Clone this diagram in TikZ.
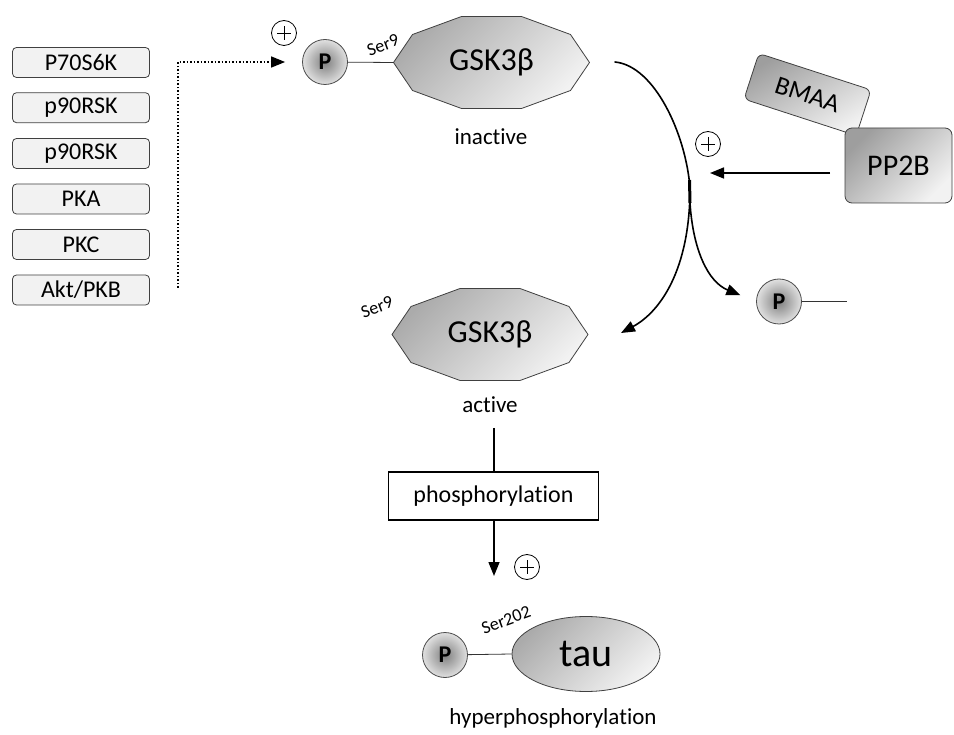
\documentclass[tikz,border=0pt]{standalone}
\usepackage{fontspec}
\setmainfont{Carlito}[Ligatures=NoCommon]
\usetikzlibrary{arrows.meta,shapes.geometric,calc}
\newcommand\decapath{(98,0) -- (79,28) -- (30,46) -- (-30,46) -- (-79,28) -- (-98,0) -- (-79,-28) -- (-30,-46) -- (30,-46) -- (79,-28) -- cycle}
\begin{document}
\begin{tikzpicture}[x=1pt,y=-1pt,
  kinase/.style={draw=black!75, fill=black!5, rounded corners=4pt, minimum width=137pt, minimum height=30pt, inner sep=0pt, line width=0.8pt, font=\fontsize{24}{26}\selectfont},
  phos/.style={circle, draw=black!70, line width=0.8pt, minimum size=45pt, inner sep=0pt, inner color=black!50, outer color=black!12, font=\bfseries\fontsize{24}{26}\selectfont},
  deca/.style={draw=black!75, line width=0.8pt, top color=black!33, bottom color=black!5, shading angle=45},
  lbl/.style={font=\fontsize{23}{25}\selectfont, inner sep=0pt},
  serlbl/.style={font=\fontsize{18}{20}\selectfont, inner sep=0pt, rotate=20},
  plus/.style={circle, draw=black, line width=0.8pt, minimum size=25pt, inner sep=0pt,
    path picture={\draw[line width=0.8pt] ($(path picture bounding box.center)+(-7,0)$) -- ++(14,0);
                  \draw[line width=0.8pt] ($(path picture bounding box.center)+(0,-7)$) -- ++(0,14);}},
  curve/.style={line width=1.6pt, line cap=round},
  tip/.style={-{Triangle[length=14pt,width=11pt]}}
]
\useasboundingbox (0,0) rectangle (954,735);

% kinase boxes
\node[kinase] (k1) at (81,62.5) {P70S6K};
\node[kinase] (k2) at (81,107.7) {p90RSK};
\node[kinase] (k3) at (81,153.5) {p90RSK};
\node[kinase] (k4) at (81,199) {PKA};
\node[kinase] (k5) at (81,244.5) {PKC};
\node[kinase] (k6) at (81,290) {Akt/PKB};

% inactive GSK3beta
\path[deca, shift={(491.5,62.5)}] \decapath;
\node[inner sep=0pt, font=\fontsize{32}{34}\selectfont] (g1) at (491.5,62.5) {GSK3β};
\coordinate (g1w) at (393.5,62.5);
\node[phos] (p1) at (325,62) {P};
\draw[line width=0.8pt, black!80] (p1) -- (g1w);
\node[serlbl] (s1) at (383,45) {Ser9};
\node[lbl] (inact) at (491,137) {inactive};

% dotted arrow
\coordinate (dotb) at (178,288);
\draw[line width=1.5pt, dotted, tip, shorten >=17pt] (dotb) |- (p1.west);
\node[plus] (pl1) at (284,33) {};

% active GSK3beta
\path[deca, shift={(490,334.5)}] \decapath;
\node[inner sep=0pt, font=\fontsize{32}{34}\selectfont] (g2) at (490,334.5) {GSK3β};
\node[serlbl] (s2) at (377,307) {Ser9};
\node[lbl] (act) at (490,405) {active};

% BMAA and PP2B
\node[draw=black!75, line width=0.8pt, rounded corners=6pt, rotate=-18, minimum width=118pt, minimum height=48pt,
  top color=black!38, bottom color=black!5, shading angle=30, font=\fontsize{26}{28}\selectfont] (bmaa) at (807.5,94.5) {BMAA};
\node[draw=black!75, line width=0.8pt, rounded corners=7pt, minimum width=107pt, minimum height=75pt,
  top color=black!38, bottom color=black!5, shading angle=45, font=\fontsize{30}{32}\selectfont] (pp2b) at (898.5,165.5) {PP2B};
\coordinate (pp2bs) at (830,173);
\coordinate (pp2bt) at (710,173);
\draw[curve, tip, line cap=butt] (pp2bs) -- (pp2bt);
\node[plus] (pl2) at (708,144) {};

% curved arrows
\coordinate (cs) at (615,62);
\coordinate (cm) at (690,188);
\coordinate (cb) at (690,203);
\coordinate (ce1) at (621,333);
\node[phos] (p3) at (779,301.5) {P};
\coordinate (p3e) at (847,301.5);
\draw[line width=0.8pt, black!80] (p3) -- (p3e);
\draw[curve, tip] (cs) .. controls (655,66) and (686,135) .. (cm) .. controls (690,270) and (660,312) .. (ce1);
\draw[line width=3pt] (689.5,180) -- (cb);
\draw[curve, tip, shorten >=17pt] (cb) .. controls (693,250) and (708,282) .. (p3.west);

% phosphorylation
\node[draw=black, line width=1.5pt, minimum width=210pt, minimum height=48pt, inner sep=0pt, font=\fontsize{24}{26}\selectfont] (phosbox) at (493.5,496) {phosphorylation};
\coordinate (acttop) at (494,428);
\coordinate (arrtip) at (494,576);
\draw[line width=1.5pt] (acttop) -- (acttop |- phosbox.north);
\draw[line width=1.5pt, tip] (phosbox.south -| arrtip) -- (arrtip);
\node[plus] (pl3) at (527,567) {};

% tau
\node[ellipse, draw=black!75, line width=0.8pt, minimum width=148pt, minimum height=75pt, inner sep=0pt,
  top color=black!33, bottom color=black!5, shading angle=45, font=\fontsize{40}{42}\selectfont] (tau) at (586,654) {tau};
\node[phos] (p4) at (445,655) {P};
\draw[line width=0.8pt, black!80] (p4) -- (tau.west);
\node[serlbl] (s3) at (506,620) {Ser202};
\node[lbl] (hyper) at (553,718) {hyperphosphorylation};
\end{tikzpicture}
\end{document}
